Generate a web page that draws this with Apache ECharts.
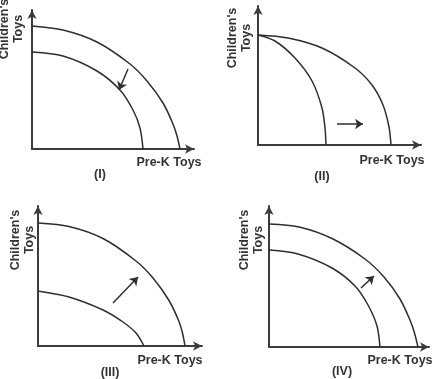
<!DOCTYPE html>
<html>
<head>
<meta charset="utf-8">
<script src="https://cdn.jsdelivr.net/npm/echarts@6/dist/echarts.min.js"></script>
<style>html,body{margin:0;padding:0;background:#fff}#c{width:433px;height:379px}</style>
</head>
<body>
<div id="c"></div>
<script>
// ---- data ----
const xAxisName = 'Pre-K Toys';
const yAxisName = "Children's\nToys";
const panelLabels = ['(I)', '(II)', '(III)', '(IV)'];
const axisMaxX = [162, 163, 164, 160];
const axisMaxY = [139, 139, 140, 141];

const p1Outer = [[0,123],[31,119],[65,107],[98,85],[115,68],[131,46],[141,25],[145,13],[148,0]];
const p1Inner = [[0,97],[31,93],[65,78],[88,59],[101,39],[108,21],[111,0]];
const p1Arrow = [[96,80],[87,59]];

const p2Outer = [[0,110],[30,107],[64,97],[97,77],[114,60],[125,40],[131,18],[133,0]];
const p2Inner = [[0,110],[17,104],[37,87],[54,64],[64,37],[67,17],[68,0]];
const p2Arrow = [[79,21],[105,21]];

const p3Outer = [[0,123],[31,119.5],[65,107.5],[98,85],[115,68],[131,45.5],[141,24.5],[144.5,13],[147,0]];
const p3Inner = [[0,55],[31,49],[65,36],[85,24],[98,13],[106,0]];
const p3Arrow = [[75,43],[100,69]];

const p4Outer = [[0,123],[30,120],[63,108.5],[96,88],[115,70],[131,48],[141,27],[145.5,14],[149,0]];
const p4Inner = [[0,97],[29,93],[63,79],[86,61],[99,42],[108,21],[111,0]];
const p4Arrow = [[92,59],[105,71]];

// ---- layout ----
const grids = [
  {left: 32, top: 10, width: 162, height: 139},
  {left: 258, top: 6, width: 163, height: 139},
  {left: 38, top: 206, width: 164, height: 140},
  {left: 269, top: 206, width: 160, height: 141}
];
const yNamePos = [[12, 29], [240, 38], [23, 240], [252, 240]];
const xNamePos = [[169, 163], [392, 161], [170, 361], [400, 361]];
const labelPos = [[100, 175], [322, 177], [110, 373], [342, 372]];

const curveColor = '#2e2e2e';
const axisColor = '#3c3c3c';
const textStyleBase = {fontFamily: 'Liberation Sans, Arial, sans-serif', fontWeight: 'bold', fontSize: 12.5, fill: '#333'};

const panelData = [
  [p1Outer, p1Inner, p1Arrow],
  [p2Outer, p2Inner, p2Arrow],
  [p3Outer, p3Inner, p3Arrow],
  [p4Outer, p4Inner, p4Arrow]
];

const xAxes = [], yAxes = [], series = [], graphics = [];
grids.forEach((g, i) => {
  const axisCommon = {
    type: 'value', gridIndex: i, min: 0,
    axisLabel: {show: false}, axisTick: {show: false}, splitLine: {show: false},
    axisLine: {show: true, onZero: false, symbol: ['none', 'arrow'], symbolSize: [7, 9], symbolOffset: [0, 0],
      lineStyle: {color: axisColor, width: 2}}
  };
  xAxes.push(Object.assign({}, axisCommon, {max: axisMaxX[i]}));
  yAxes.push(Object.assign({}, axisCommon, {max: axisMaxY[i]}));
  const [outer, inner, arrow] = panelData[i];
  [outer, inner].forEach((d, k) => {
    const s = {
      type: 'line', xAxisIndex: i, yAxisIndex: i, data: d, smooth: 0.3, showSymbol: false,
      lineStyle: {color: curveColor, width: 1.5}, silent: true
    };
    if (k === 0) {
      s.markLine = {
        silent: true, symbol: ['none', 'arrow'], symbolSize: 8,
        label: {show: false},
        lineStyle: {color: curveColor, width: 1.5, type: 'solid'},
        data: [[{coord: arrow[0]}, {coord: arrow[1]}]]
      };
    }
    series.push(s);
  });
  graphics.push({
    type: 'text', x: yNamePos[i][0], y: yNamePos[i][1], rotation: Math.PI / 2,
    style: Object.assign({}, textStyleBase, {text: yAxisName, align: 'center', verticalAlign: 'middle', lineHeight: 14})
  });
  graphics.push({
    type: 'text', x: xNamePos[i][0], y: xNamePos[i][1],
    style: Object.assign({}, textStyleBase, {text: xAxisName, align: 'center', verticalAlign: 'middle'})
  });
  graphics.push({
    type: 'text', x: labelPos[i][0], y: labelPos[i][1],
    style: Object.assign({}, textStyleBase, {text: panelLabels[i], align: 'center', verticalAlign: 'middle'})
  });
});

const chart = echarts.init(document.getElementById('c'), null, {renderer: 'canvas'});
chart.setOption({
  animation: false,
  backgroundColor: '#fff',
  grid: grids,
  xAxis: xAxes,
  yAxis: yAxes,
  series: series,
  graphic: graphics
});
</script>
</body>
</html>
